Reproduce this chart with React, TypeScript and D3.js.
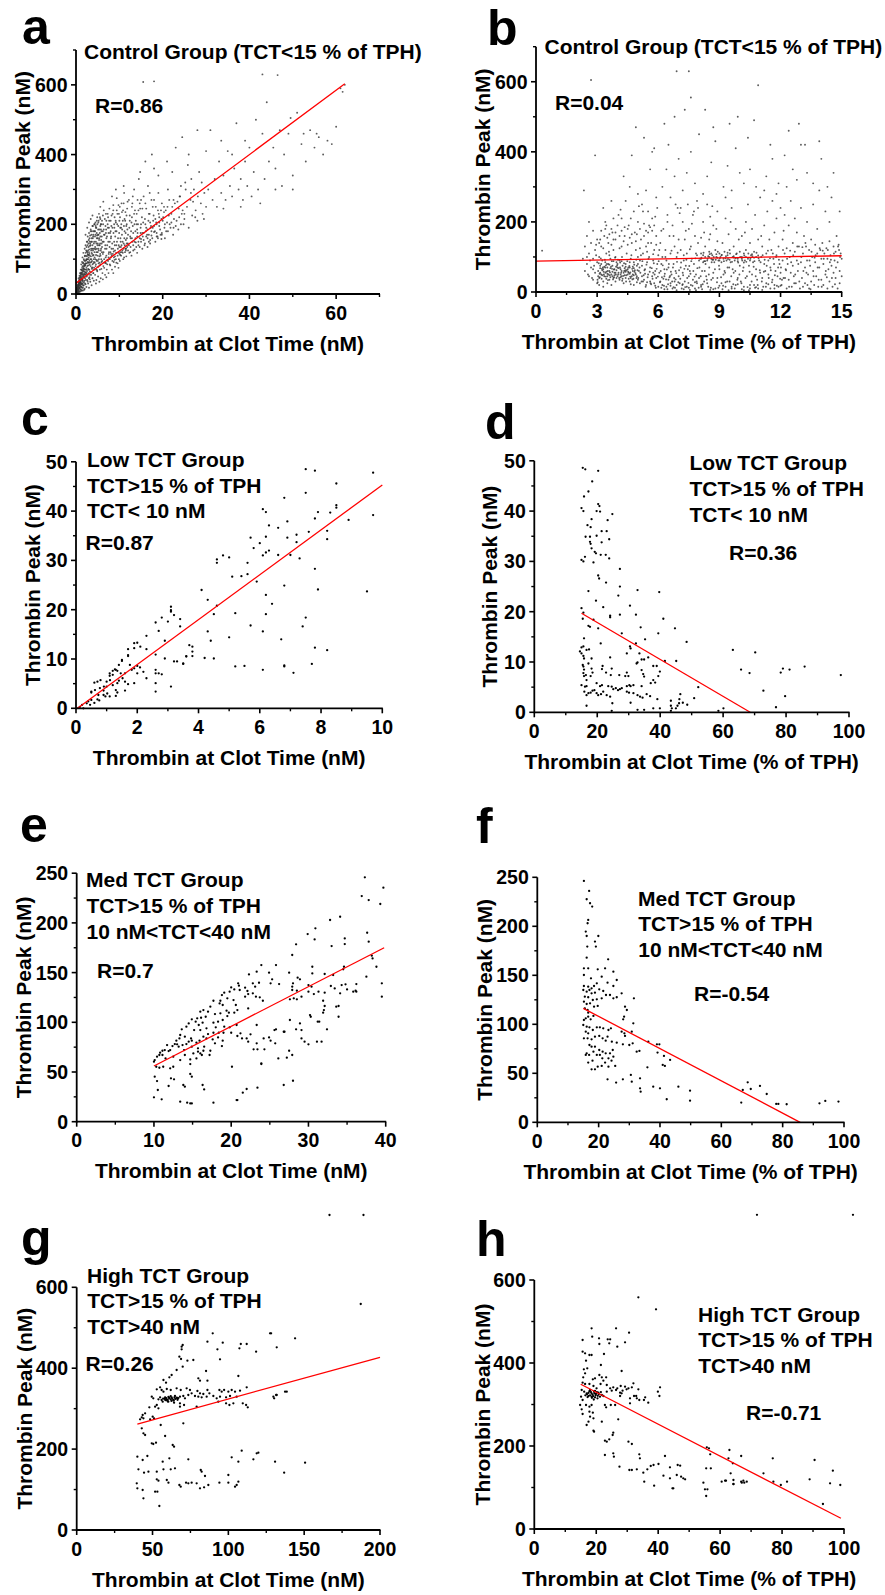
import React from 'react';
import * as d3 from 'd3';

type Pt = [number, number];

// ---------- Panel a : Control group, TCT (nM) vs peak ----------
const aPoints: Pt[] = [
[0.2,4],[0.3,9],[0.4,15],[0.5,6],[0.5,22],[0.6,12],[0.7,30],[0.8,18],[0.8,8],[0.9,40],[1.0,25],[1.0,14],[1.1,50],[1.1,33],[1.2,20],[1.2,62],[1.3,42],[1.3,11],[1.4,28],[1.4,75],[1.5,55],[1.5,36],[1.6,18],[1.6,88],[1.7,47],[1.7,66],[1.8,25],[1.8,100],[1.9,58],[1.9,38],[2.0,80],[2.0,15],[0.3,25],[0.6,45],[0.9,60],[1.2,85],[1.5,105],[0.4,3],[0.7,5],[1.0,7],[1.3,9],[1.6,10],[1.9,12],[0.2,18],[0.5,35],[0.8,52],[1.1,70],[1.4,92],[1.7,118],[2.0,130],
[2.1,45],[2.1,95],[2.2,28],[2.2,140],[2.3,62],[2.3,110],[2.4,20],[2.4,75],[2.5,150],[2.5,88],[2.6,40],[2.6,120],[2.7,55],[2.7,165],[2.8,100],[2.8,30],[2.9,70],[2.9,135],[3.0,18],[3.0,90],[3.0,175],[3.1,48],[3.1,115],[3.2,65],[3.2,150],[3.3,35],[3.3,100],[3.4,80],[3.4,185],[3.5,125],[3.5,55],[3.6,25],[3.6,160],[3.7,95],[3.7,72],[3.8,140],[3.8,45],[3.9,110],[3.9,195],[4.0,60],[4.0,130],[2.2,170],[2.6,190],[3.0,205],[3.4,215],[3.8,225],[2.4,58],[2.8,82],[3.2,42],[3.6,118],[4.0,88],
[4.1,38],[4.2,75],[4.2,150],[4.3,105],[4.3,200],[4.4,55],[4.5,128],[4.5,170],[4.6,85],[4.7,40],[4.7,145],[4.8,210],[4.8,98],[4.9,65],[5.0,160],[5.0,120],[5.1,185],[5.1,50],[5.2,88],[5.3,140],[5.3,230],[5.4,108],[5.5,70],[5.5,175],[5.6,195],[5.7,45],[5.7,125],[5.8,155],[5.9,92],[6.0,210],[6.0,135],[6.1,60],[6.2,115],[6.2,180],[6.3,80],[6.4,240],[6.4,150],[6.5,100],[6.6,170],[6.7,55],[6.7,130],[6.8,195],[6.9,88],[7.0,160],[7.0,110],[4.4,180],[4.9,220],[5.6,250],[6.3,265],[6.9,230],[4.6,30],[5.4,35],[6.2,42],[7.0,48],
[7.1,70],[7.2,140],[7.3,200],[7.4,95],[7.5,175],[7.5,60],[7.6,120],[7.7,245],[7.8,150],[7.9,82],[8.0,210],[8.0,105],[8.1,165],[8.2,130],[8.3,70],[8.4,190],[8.5,115],[8.6,255],[8.7,92],[8.8,150],[8.9,220],[9.0,125],[9.0,78],[9.1,180],[9.2,100],[9.3,140],[9.4,275],[9.5,200],[9.6,88],[9.7,160],[9.8,118],[9.9,230],[10.0,135],[10.1,95],[10.2,190],[10.3,150],[10.4,110],[10.5,260],[10.6,170],[10.7,125],[10.8,210],[10.9,100],[11.0,145],[11.1,290],[11.2,180],[11.3,120],[11.4,235],[11.5,155],[11.6,108],[11.7,200],[11.8,135],[11.9,265],[12.0,170],[7.4,220],[8.3,280],[9.2,300],[10.1,250],[11.0,310],[7.8,85],[8.9,98],[10.2,112],[11.5,125],[8.6,60],[9.8,75],
[12.2,140],[12.4,210],[12.5,120],[12.7,180],[12.9,250],[13.0,150],[13.2,125],[13.4,300],[13.5,200],[13.7,160],[13.9,135],[14.0,230],[14.2,175],[14.4,140],[14.5,330],[14.7,260],[14.9,190],[15.0,150],[15.2,220],[15.4,165],[15.6,280],[15.8,140],[16.0,200],[16.2,245],[16.4,170],[16.6,310],[16.8,150],[17.0,230],[17.2,190],[17.4,270],[17.6,160],[17.8,210],[18.0,360],[18.2,180],[18.4,250],[18.6,200],[18.8,165],[19.0,290],[19.2,220],[19.4,185],[19.6,240],[19.8,175],[20.0,210],[13.1,280],[14.8,350],[16.0,380],[17.5,400],[19.0,340],[15.3,130],[17.1,145],[18.9,160],[12.8,110],[14.1,118],[16.5,135],[18.3,150],[19.7,158],
[20.3,250],[20.8,180],[21.2,300],[21.6,200],[22.0,230],[22.4,170],[22.8,260],[23.2,210],[23.6,185],[24.0,280],[24.4,230],[24.8,200],[25.2,320],[25.6,250],[26.0,190],[26.4,270],[26.8,225],[27.2,300],[27.6,240],[28.0,210],[28.4,350],[28.8,260],[29.2,230],[29.6,290],[30.0,250],[21.0,380],[23.0,420],[24.5,450],[26.0,400],[28.0,470],[20.5,160],[22.5,190],[25.0,215],[27.5,220],[29.5,215],[21.5,270],[24.2,310],[26.6,330],[29.0,320],[22.2,350],[25.8,370],[23.7,245],[27.0,265],
[30.5,300],[31.0,470],[31.5,270],[32.0,330],[32.5,250],[33.0,380],[33.5,290],[34.0,340],[34.5,270],[35.0,410],[35.5,310],[36.0,280],[36.5,360],[37.0,490],[37.5,300],[38.0,330],[38.5,270],[39.0,380],[39.5,310],[40.0,420],[41.0,350],[42.0,300],[43.0,460],[44.0,550],[44.5,380],[41.5,500],[39.0,440],[36.0,400],[33.5,440],[30.0,410],[42.5,260],[38.0,250],[34.0,245],[40.5,280],[43.5,330],
[45.5,420],[46.0,360],[47.0,470],[47.5,310],[48.0,400],[49.0,460],[50.0,340],[51.0,520],[52.0,430],[53.0,380],[54.0,470],[55.0,420],[56.0,450],[57.0,400],[58.0,440],[59.0,430],[60.0,480],[61.0,590],[62.0,600],[43.0,630],[46.5,628],[15.5,608],[18.0,610],[46.0,300],[50.0,300],[52.5,460],[55.5,460],[49.5,505],[61.5,580],
[0.1,2],[0.15,8],[0.25,12],[0.35,5],[0.45,18],[0.55,28],[0.65,20],[0.75,38],[0.85,26],[0.95,48],[1.05,35],[1.15,22],[1.25,55],[1.35,68],[1.45,44],[1.55,30],[1.65,72],[1.75,52],[1.85,82],[1.95,64],[2.05,108],[2.15,70],[2.25,88],[2.35,125],[2.45,98],[2.55,66],[2.65,140],[2.75,112],[2.85,90],[2.95,155],[3.05,128],[3.15,84],[3.25,168],[3.35,140],[3.45,108],[3.55,92],[3.65,180],[3.75,130],[3.85,76],[3.95,165],[4.05,112],[4.15,92],[4.25,180],[4.35,130],[4.45,100],[4.55,195],[4.65,70],[4.75,120],[4.85,168],[4.95,140],[5.05,95],[5.15,205],[5.25,125],[5.35,160],[5.45,82],[5.55,145],[5.65,110],[5.75,185],[5.85,72],[5.95,165],
[6.5,75],[7.2,85],[7.8,100],[8.4,95],[9.0,108],[9.6,110],[10.2,120],[10.8,118],[11.4,130],[12.0,125],[12.6,135],[13.2,140],[13.8,148],[14.4,150],[15.0,158],[15.6,155],[16.2,165],[16.8,170],[17.4,168],[18.0,178],[6.8,90],[7.5,105],[8.1,115],[8.7,122],[9.3,90],[9.9,100],[10.5,140],[11.1,105],[11.7,145],[12.3,118],[12.9,160],[13.5,128],[14.1,165],[14.7,135],[15.3,175],[15.9,145],[16.5,185],[17.1,155],[17.7,190],[18.6,165],[19.2,195],[19.8,170],[20.5,200],[21.2,180],[22.0,205],
[3.5,150],[4.0,170],[4.6,190],[5.2,170],[5.8,200],[6.4,185],[7.0,210],[7.6,190],[8.2,225],[8.8,200],[9.4,240],[10.0,210],[10.6,235],[11.2,215],[11.8,245],[12.4,225],[13.0,260],[13.6,240],[14.2,270],[14.8,245],[4.8,160],[5.6,215],[6.2,225],[6.9,175],[7.3,230],[8.0,180],[8.6,240],[9.2,205],[9.8,255],[10.4,190],[11.0,260],[11.6,195],[12.2,270],[12.8,205],[13.4,230],[14.0,200],[15.0,270],[16.0,260],[17.0,290],[18.0,270],
[0.12,5],[0.18,12],[0.22,7],[0.28,16],[0.32,3],[0.38,20],[0.42,10],[0.48,26],[0.52,14],[0.58,32],[0.62,8],[0.68,24],[0.72,40],[0.78,16],[0.82,34],[0.88,46],[0.92,20],[0.98,30],[1.02,54],[1.08,12],[1.12,40],[1.18,60],[1.22,28],[1.28,48],[1.32,70],[1.38,18],[1.42,58],[1.48,80],[1.52,40],[1.58,66],[1.62,24],[1.68,90],[1.72,56],[1.78,74],[1.82,34],[1.88,96],[1.92,48],[1.98,70],[2.02,110],[2.08,30],[2.12,84],[2.18,56],[2.22,118],[2.28,40],[2.32,96],[2.38,70],[2.42,135],[2.48,50],[2.52,108],[2.58,80],[2.62,150],[2.68,36],[2.72,92],[2.78,125],[2.82,60],[2.88,145],[2.92,105],[2.98,45],
[0.3,14],[0.6,26],[0.9,34],[1.2,44],[1.5,62],[1.8,72],[2.1,82],[2.4,100],[2.7,115],[3.0,120],[0.4,22],[0.7,16],[1.0,42],[1.3,30],[1.6,50],[1.9,86],[2.2,62],[2.5,122],[2.8,72],[3.1,95],[0.5,10],[0.8,30],[1.1,58],[1.4,40],[1.7,78],[2.0,55],[2.3,88],[2.6,100],[2.9,112],[3.2,138],
[3.05,70],[3.12,160],[3.18,110],[3.22,55],[3.28,145],[3.32,90],[3.38,180],[3.42,62],[3.48,130],[3.52,100],[3.58,170],[3.62,75],[3.68,150],[3.72,115],[3.78,195],[3.82,85],[3.88,160],[3.92,125],[3.98,60],[4.02,180],[4.08,100],[4.12,145],[4.18,70],[4.22,200],[4.28,120],[4.32,90],[4.38,165],[4.42,135],[4.48,205],[4.52,80],[4.58,150],[4.62,112],[4.68,190],[4.72,95],[4.78,175],[4.82,130],[4.88,68],[4.92,200],[4.98,110],[5.02,145],[5.08,170],[5.12,78],[5.18,130],[5.22,210],[5.28,100],[5.32,155],[5.38,185],[5.42,90],[5.48,140],[5.52,220],[5.58,115],[5.62,165],[5.68,85],[5.72,200],[5.78,130],[5.82,100],[5.88,180],[5.92,145],[5.98,120],
[6.05,95],[6.15,150],[6.25,200],[6.35,120],[6.45,170],[6.55,90],[6.65,215],[6.75,140],[6.85,105],[6.95,185],[7.05,130],[7.15,165],[7.25,98],[7.35,190],[7.45,150],[7.55,115],[7.65,210],[7.75,135],[7.85,175],[7.95,120],[8.05,160],[8.15,195],[8.25,110],[8.35,145],[8.45,230],[8.55,130],[8.65,175],[8.75,105],[8.85,190],[8.95,140],[9.05,165],[9.15,210],[9.25,118],[9.35,180],[9.45,150],[9.55,230],[9.65,130],[9.75,195],[9.85,140],[9.95,175],[10.05,115],[10.15,220],[10.25,160],[10.35,135],[10.45,200],[10.55,120],[10.65,185],[10.75,150],[10.85,240],[10.95,130],[11.05,195],[11.15,160],[11.25,140],[11.35,210],[11.45,175],[11.55,130],[11.65,225],[11.75,160],[11.85,185],[11.95,145],
[12.3,190],[12.6,160],[12.9,220],[13.2,175],[13.5,150],[13.8,210],[14.1,185],[14.4,240],[14.7,160],[15.0,200],[15.3,245],[15.6,175],[15.9,215],[16.2,190],[16.5,160],[16.8,230],[17.1,205],[17.4,180],[17.7,250],[18.0,195],[18.3,215],[18.6,175],[18.9,240],[19.2,205],[19.5,170],[19.8,260],[20.1,220],[20.4,190],[20.7,240],[21.0,205],[21.4,225],[21.8,190],[22.2,250],[22.6,215],[23.0,195],[23.4,265],[23.8,220],[24.2,200],[24.6,240],[25.0,230],
[12.5,165],[13.1,195],[13.7,180],[14.3,200],[14.9,175],[15.5,205],[16.1,180],[16.7,210],[17.3,195],[17.9,225],[18.5,205],[19.1,230],[19.7,215],[20.3,235],[21.1,250],[22.5,270],[23.9,280],[25.3,300],[26.5,290],[28.1,280]
];
const aFit: Pt[] = [[0, 31], [62, 603]];
const aXTicks = [0, 20, 40, 60];
const aXMinor = [10, 30, 50, 70];
const aYTicks = [0, 200, 400, 600];
const aYMinor = [100, 300, 500, 700];
const aNotes = ['Control Group (TCT<15 % of TPH)', 'R=0.86'];

// ---------- Panel b : Control group, TCT (% of TPH) vs peak ----------
const bPoints: Pt[] = [
[0.3,118],
[2.3,95],[2.4,130],[2.4,60],[2.5,160],[2.5,80],[2.6,110],[2.6,45],[2.7,140],[2.7,70],[2.8,175],[2.8,95],[2.8,35],[2.9,120],[2.9,55],[3.0,150],[3.0,85],[3.0,25],[2.35,290],[2.6,200],[2.9,390],[2.7,605],[2.5,100],[2.8,65],[2.95,135],
[3.05,60],[3.1,40],[3.1,100],[3.15,75],[3.2,50],[3.2,130],[3.25,90],[3.3,30],[3.3,65],[3.35,160],[3.4,55],[3.4,85],[3.45,110],[3.5,45],[3.5,70],[3.55,140],[3.6,35],[3.6,60],[3.65,95],[3.7,50],[3.7,180],[3.75,75],[3.8,40],[3.8,120],[3.85,65],[3.9,55],[3.9,150],[3.95,85],[4.0,45],[4.0,70],[3.1,20],[3.3,15],[3.5,25],[3.7,20],[3.9,30],[3.2,175],[3.4,200],[3.6,165],[3.8,210],[4.0,190],[3.3,240],[3.7,260],[3.5,52],[3.65,42],[3.75,58],[3.85,48],[3.45,38],[3.25,48],[3.15,68],[3.95,62],[3.55,80],[3.35,72],[3.6,105],[3.9,100],
[4.05,55],[4.1,35],[4.1,90],[4.15,65],[4.2,45],[4.2,130],[4.25,75],[4.3,25],[4.3,55],[4.35,160],[4.4,40],[4.4,80],[4.45,110],[4.5,50],[4.5,65],[4.55,190],[4.6,30],[4.6,70],[4.65,95],[4.7,45],[4.7,140],[4.75,60],[4.8,20],[4.8,85],[4.85,170],[4.9,50],[4.9,120],[4.95,75],[5.0,35],[5.0,100],[4.2,210],[4.4,260],[4.6,300],[4.8,230],[5.0,280],[4.3,330],[4.7,390],[4.9,470],[4.1,160],[4.5,180],[4.2,60],[4.4,58],[4.6,52],[4.8,48],[4.35,68],[4.75,72],[4.15,42],[4.55,38],[4.95,28],[4.65,22],
[5.05,60],[5.1,25],[5.1,90],[5.15,150],[5.2,45],[5.2,75],[5.25,110],[5.3,35],[5.3,195],[5.35,65],[5.4,20],[5.4,130],[5.45,85],[5.5,50],[5.5,170],[5.55,100],[5.6,30],[5.6,70],[5.65,140],[5.7,45],[5.7,210],[5.75,90],[5.8,25],[5.8,120],[5.85,60],[5.9,160],[5.9,40],[5.95,80],[6.0,15],[6.0,105],[5.2,250],[5.4,290],[5.6,350],[5.8,410],[5.3,440],[5.7,400],[5.5,230],[5.9,270],[5.1,180],[5.6,185],[5.25,30],[5.45,28],[5.65,22],[5.85,18],[5.35,52],[5.75,55],
[6.05,55],[6.1,30],[6.1,140],[6.15,80],[6.2,20],[6.2,100],[6.25,180],[6.3,45],[6.3,65],[6.35,120],[6.4,15],[6.4,90],[6.45,220],[6.5,35],[6.5,70],[6.55,160],[6.6,25],[6.6,110],[6.65,50],[6.7,10],[6.7,190],[6.75,80],[6.8,30],[6.8,130],[6.85,60],[6.9,20],[6.9,100],[6.95,240],[7.0,45],[7.0,150],[6.2,300],[6.4,350],[6.6,270],[6.8,330],[7.0,380],[6.3,480],[6.8,500],[6.5,420],[6.9,630],[6.15,12],[6.45,8],[6.75,14],[6.25,38],[6.55,42],[6.85,36],
[7.05,25],[7.1,70],[7.1,120],[7.15,10],[7.2,55],[7.2,200],[7.25,90],[7.3,30],[7.3,150],[7.35,75],[7.4,15],[7.4,110],[7.45,250],[7.5,45],[7.5,180],[7.55,60],[7.6,20],[7.6,130],[7.65,95],[7.7,35],[7.7,220],[7.75,80],[7.8,10],[7.8,160],[7.85,50],[7.9,25],[7.9,105],[7.95,140],[8.0,40],[8.0,90],[7.2,290],[7.4,340],[7.6,400],[7.8,310],[8.0,450],[7.5,630],[7.6,555],[7.3,520],[7.9,260],[7.1,240],[7.25,8],[7.55,6],[7.85,5],[7.45,65],
[8.05,95],[8.1,20],[8.1,110],[8.15,60],[8.2,85],[8.2,200],[8.25,30],[8.3,100],[8.3,130],[8.35,45],[8.4,90],[8.4,250],[8.45,15],[8.5,115],[8.5,70],[8.55,165],[8.6,95],[8.6,35],[8.65,105],[8.7,55],[8.7,190],[8.75,85],[8.8,10],[8.8,120],[8.85,100],[8.9,40],[8.9,230],[8.95,90],[9.0,110],[9.0,65],[8.2,280],[8.4,330],[8.6,370],[8.8,430],[8.3,520],[8.7,470],[8.1,155],[8.5,150],[8.9,145],[8.25,88],[8.45,102],[8.65,92],[8.85,108],[8.15,8],[8.55,6],[8.95,12],
[9.05,100],[9.1,25],[9.1,85],[9.15,140],[9.2,95],[9.2,50],[9.25,115],[9.3,15],[9.3,210],[9.35,90],[9.4,70],[9.4,105],[9.45,165],[9.5,30],[9.5,120],[9.55,85],[9.6,10],[9.6,240],[9.65,100],[9.7,55],[9.7,130],[9.75,90],[9.8,20],[9.8,180],[9.85,110],[9.9,40],[9.9,95],[9.95,150],[10.0,75],[10.0,115],[9.2,300],[9.4,360],[9.6,290],[9.8,410],[10.0,340],[9.5,480],[9.9,500],[9.3,270],[9.15,8],[9.45,5],[9.75,10],[9.25,60],[9.65,65],
[10.05,30],[10.1,100],[10.1,160],[10.15,60],[10.2,110],[10.2,15],[10.25,90],[10.3,200],[10.3,120],[10.35,45],[10.4,95],[10.4,250],[10.45,75],[10.5,10],[10.5,140],[10.55,105],[10.6,50],[10.6,180],[10.65,85],[10.7,20],[10.7,115],[10.75,220],[10.8,65],[10.8,100],[10.85,35],[10.9,150],[10.9,10],[10.95,90],[11.0,55],[11.0,270],[10.2,310],[10.5,350],[10.8,300],[10.4,440],[10.7,490],[10.9,590],[10.1,8],[10.45,5],[10.75,12],
[11.05,100],[11.1,40],[11.1,130],[11.15,15],[11.2,80],[11.2,190],[11.25,60],[11.3,110],[11.3,25],[11.35,230],[11.4,90],[11.4,50],[11.45,150],[11.5,10],[11.5,70],[11.55,120],[11.6,35],[11.6,260],[11.65,95],[11.7,20],[11.7,170],[11.75,60],[11.8,105],[11.8,210],[11.85,45],[11.9,130],[11.9,15],[11.95,80],[12.0,55],[12.0,240],[11.3,330],[11.6,380],[11.9,310],[11.2,290],[11.8,280],[11.5,420],
[12.05,20],[12.1,90],[12.1,150],[12.15,40],[12.2,110],[12.2,220],[12.25,65],[12.3,10],[12.3,125],[12.35,80],[12.4,190],[12.4,35],[12.45,100],[12.5,55],[12.5,260],[12.55,15],[12.6,140],[12.6,75],[12.65,45],[12.7,115],[12.7,210],[12.75,25],[12.8,90],[12.8,170],[12.85,60],[12.9,130],[12.95,10],[13.0,85],[13.0,240],[12.3,300],[12.6,350],[12.9,480],[12.2,390],[12.8,320],[12.4,460],[13.0,420],
[13.05,40],[13.1,110],[13.1,15],[13.15,160],[13.2,70],[13.2,25],[13.25,130],[13.3,90],[13.3,200],[13.35,50],[13.4,10],[13.4,120],[13.45,75],[13.5,150],[13.5,30],[13.55,100],[13.6,60],[13.6,250],[13.65,20],[13.7,135],[13.7,85],[13.75,45],[13.8,110],[13.8,180],[13.85,15],[13.9,70],[13.9,290],[13.95,120],[14.0,35],[14.0,95],[13.3,340],[13.6,310],[13.9,430],[14.0,380],[13.2,420],
[14.05,140],[14.1,20],[14.1,80],[14.15,110],[14.2,50],[14.2,230],[14.25,125],[14.3,10],[14.3,95],[14.35,65],[14.4,145],[14.4,30],[14.45,105],[14.5,75],[14.5,270],[14.55,15],[14.6,130],[14.6,55],[14.65,90],[14.7,40],[14.7,115],[14.75,160],[14.8,10],[14.8,85],[14.85,135],[14.9,60],[14.9,25],[14.95,110],[15.0,95],[15.0,45],[14.3,300],[14.6,340],[14.9,230],[14.4,200],
[3.1,140],[3.3,125],[3.5,155],[3.7,135],[3.9,170],[4.1,125],[4.3,145],[4.5,135],[4.7,165],[4.9,145],[5.1,125],[5.3,160],[5.5,140],[5.7,175],[5.9,135],[3.4,180],[3.8,150],[4.2,175],[4.6,155],[5.0,200],[5.4,175],[5.8,190],
[3.05,45],[3.15,55],[3.25,62],[3.35,45],[3.45,58],[3.55,50],[3.65,68],[3.75,45],[3.85,55],[3.95,40],[4.05,68],[4.15,50],[4.25,38],[4.35,48],[4.45,62],[4.55,55],[4.65,40],[4.75,50],[4.85,62],[4.95,45],[3.2,80],[3.4,70],[3.6,78],[3.8,88],[4.0,80],[4.2,88],[4.4,72],[4.6,85],[4.8,68],[5.0,80],
[8.1,95],[8.3,88],[8.5,100],[8.7,92],[8.9,98],[9.1,105],[9.3,96],[9.5,92],[9.7,102],[9.9,88],[10.1,95],[10.3,100],[10.5,90],[10.7,98],[10.9,104],[8.2,105],[8.6,110],[9.0,90],[9.4,112],[9.8,96],[10.2,84],[10.6,108],
[6.3,8],[6.6,18],[6.9,5],[7.2,22],[7.5,12],[7.8,28],[8.1,15],[8.4,25],[8.7,8],[9.0,18],[9.3,28],[9.6,15],[9.9,22],[10.2,5],[10.5,20],[10.8,14],[11.1,6],[11.4,22],[11.7,10],[12.0,18],
[2.55,50],[2.65,90],[2.75,40],[2.85,75],[2.95,105],[3.02,35],[3.08,82],[3.12,52],[3.18,96],[3.22,38],[3.28,70],[3.32,58],[3.38,92],[3.42,44],[3.48,80],[3.52,60],[3.58,115],[3.62,48],[3.68,72],[3.72,88],[3.78,36],[3.82,64],[3.88,98],[3.92,50],[3.98,76],[4.02,92],[4.08,40],[4.12,70],[4.18,55],[4.22,100],[4.28,46],[4.32,82],[4.38,62],[4.42,30],[4.48,88],[4.52,58],[4.58,74],[4.62,44],[4.68,105],[4.72,66],[4.78,38],[4.82,78],[4.88,54],[4.92,92],[4.98,62],
[3.03,28],[3.13,42],[3.23,66],[3.33,50],[3.43,76],[3.53,34],[3.63,56],[3.73,66],[3.83,42],[3.93,72],[4.03,50],[4.13,84],[4.23,32],[4.33,60],[4.43,48],[4.53,70],[4.63,56],[4.73,36],[4.83,58],[4.93,40],
[5.02,40],[5.08,70],[5.12,55],[5.18,30],[5.22,88],[5.28,48],[5.32,62],[5.38,15],[5.42,78],[5.48,42],[5.52,95],[5.58,58],[5.62,25],[5.68,68],[5.72,38],[5.78,82],[5.82,50],[5.88,12],[5.92,66],[5.98,44],[6.02,88],[6.08,28],[6.12,60],[6.18,42],[6.22,76],[6.28,18],[6.32,52],[6.38,36],[6.42,64],[6.48,22],[6.52,80],[6.58,46],[6.62,58],[6.68,30],[6.72,70],[6.78,40],[6.82,12],[6.88,54],[6.92,86],[6.98,28],[7.02,62],[7.08,38],[7.12,84],[7.18,20],[7.22,48],[7.28,66],[7.32,14],[7.38,92],[7.42,40],[7.48,26],[7.52,74],[7.58,52],[7.62,88],[7.68,18],[7.72,60],[7.78,44],[7.82,96],[7.88,30],[7.92,68],[7.98,12],
[5.15,105],[5.45,115],[5.75,108],[6.05,120],[6.35,100],[6.65,118],[6.95,112],[7.25,105],[7.55,122],[7.85,110],
[8.02,70],[8.08,45],[8.12,98],[8.18,22],[8.22,112],[8.28,60],[8.32,80],[8.38,35],[8.42,95],[8.48,50],[8.52,108],[8.58,12],[8.62,85],[8.68,40],[8.72,100],[8.78,65],[8.82,92],[8.88,28],[8.92,115],[8.98,75],[9.02,96],[9.08,42],[9.12,106],[9.18,18],[9.22,88],[9.28,55],[9.32,102],[9.38,30],[9.42,94],[9.48,70],[9.52,110],[9.58,45],[9.62,86],[9.68,22],[9.72,98],[9.78,60],[9.82,108],[9.88,35],[9.92,84],[9.98,50],[10.02,100],[10.08,25],[10.12,90],[10.18,70],[10.22,104],[10.28,40],[10.32,86],[10.38,14],[10.42,110],[10.48,58],[10.52,95],[10.58,30],[10.62,102],[10.68,72],[10.72,88],[10.78,45],[10.82,112],[10.88,20],[10.92,96],[10.98,62],
[11.02,85],[11.08,30],[11.12,105],[11.18,58],[11.22,92],[11.28,15],[11.32,75],[11.38,118],[11.42,40],[11.48,96],[11.52,62],[11.58,28],[11.62,110],[11.68,80],[11.72,48],[11.78,100],[11.82,18],[11.88,70],[11.92,92],[11.98,38],
[12.02,70],[12.12,120],[12.22,40],[12.32,95],[12.42,15],[12.52,85],[12.62,105],[12.72,50],[12.82,130],[12.92,30],[13.02,100],[13.12,60],[13.22,140],[13.32,20],[13.42,90],[13.52,115],[13.62,45],[13.72,105],[13.82,70],[13.92,125],[14.02,15],[14.12,95],[14.22,60],[14.32,120],[14.42,85],[14.52,40],[14.62,110],[14.72,70],[14.82,130],[14.92,100],
[12.07,35],[12.27,62],[12.47,118],[12.67,25],[12.87,80],[13.07,128],[13.27,55],[13.47,8],[13.67,98],[13.87,35],[14.07,118],[14.27,42],[14.47,92],[14.67,22],[14.87,120],
[3.15,150],[3.45,190],[3.75,170],[4.05,220],[4.35,185],[4.65,210],[4.95,165],[5.25,230],[5.55,190],[5.85,215],[6.15,175],[6.45,200],[6.75,160],[7.05,225],[7.35,175],[7.65,195],[7.95,240],[8.25,170],[8.55,215],[8.85,180],[4.15,235],[5.05,245],[5.95,240],[6.85,250],[7.75,230],[8.65,245],[9.55,200],[10.25,170],[11.05,160],[12.15,175]
];
const bFit: Pt[] = [[0, 88], [15, 103.5]];
const bXTicks = [0, 3, 6, 9, 12, 15];
const bXMinor = [1.5, 4.5, 7.5, 10.5, 13.5];
const bYTicks = [0, 200, 400, 600];
const bYMinor = [100, 300, 500, 700];
const bNotes = ['Control Group (TCT<15 % of TPH)', 'R=0.04'];

// ---------- Panel c : Low TCT, nM ----------
const cPoints: Pt[] = [
[7.5,48.5],[7.8,48.2],[9.7,47.8],[8.5,45.6],[7.5,43.7],[6.8,42.7],[6.1,40.4],[6.2,39.8],[8.5,41.2],[8.5,40.7],[7.9,39.8],[8.3,39.7],[7.8,38.5],[9.7,39.2],[8.9,38.2],[6.3,37.1],[6.9,37.9],[6.6,36.6],[8.2,36.0],[7.6,35.8],[6.2,34.8],[5.7,34.6],[7.2,35.2],[6.9,34.6],[8.2,34.3],[6.0,33.5],[7.2,33.7],[5.8,32.5],[6.3,32.0],[6.2,31.6],[6.1,31.0],[6.6,31.1],[7.0,31.1],[7.3,30.4],[4.8,31.0],[5.0,30.6],[4.6,30.2],[4.6,29.5],[5.6,29.5],[7.8,28.3],[5.1,26.7],[5.4,26.8],[5.6,27.2],[5.9,25.7],[6.8,24.9],[7.9,24.1],[4.1,24.0],[9.5,23.7],[6.2,23.0],[4.3,22.0],[6.4,21.2],[4.6,20.8],[4.5,19.1],[5.2,19.3],[6.2,19.1],[6.1,15.6],[7.5,18.4],[7.4,16.6],[5.7,16.8],[4.3,15.6],[4.4,13.7],[5.0,14.4],[6.7,14.0],[7.8,12.3],[8.2,11.8],[4.2,10.2],[4.5,10.1],[5.2,8.5],[5.5,8.6],[6.8,8.7],[6.8,8.5],[7.7,9.0],[6.1,7.8],[7.1,7.2],
[2.6,17.4],[2.8,18.4],[2.7,15.7],[3.0,17.6],[3.2,18.9],[3.1,19.6],[3.1,19.9],[3.1,20.6],[3.4,18.1],[3.4,16.6],[2.3,14.7],[1.9,13.2],[2.0,13.3],[2.1,12.5],[1.9,12.2],[1.7,12.0],[1.7,10.8],[1.7,10.6],[2.3,12.0],[2.9,13.7],[2.6,10.9],[2.9,10.1],[3.2,9.5],[3.3,9.5],[3.5,9.1],[3.5,9.0],[3.6,10.5],[3.8,10.6],[3.7,12.8],[3.8,12.5],[3.8,11.5],[3.6,10.6],[2.6,7.8],[2.6,7.1],[2.7,7.1],[2.8,6.9],[2.3,6.1],[2.6,5.1],[3.1,4.4],[2.6,3.4],[2.2,7.4],[2.0,8.6],[1.9,8.1],[2.0,7.1],[1.9,5.1],[1.6,7.1],[1.4,8.8],[1.5,9.6],[1.5,9.8],[1.3,7.8],[1.2,7.6],[1.1,7.1],[1.1,6.6],[1.0,5.4],[0.8,5.7],[0.7,5.4],[0.6,5.2],[0.5,3.4],[0.5,3.2],[0.9,3.6],[1.0,4.4],[1.2,4.7],[1.35,5.1],[1.4,5.6],[1.3,3.7],[1.35,3.2],[1.6,5.4],[1.7,4.9],[1.6,3.6],[1.3,2.5],[1.1,2.4],[0.9,2.7],[0.7,1.8],[0.5,1.7],[0.4,1.4],[0.2,0.7],[0.13,0.3],[0.35,1.0],[0.6,1.1],[0.76,1.6],[0.96,2.4],[1.02,3.0],[0.78,4.1],[0.62,3.7],[0.73,2.7],[0.91,4.4],[1.11,5.7],[1.2,6.8],[1.27,7.9],[1.35,7.6],[1.46,7.1],[1.52,6.1],[1.76,8.8],[1.82,7.8],[2.09,8.3],[0.08,0.1],[0.24,0.0],[0.46,0.7]
];
const cFit: Pt[] = [[0.05, 0], [10, 45.3]];
const cXTicks = [0, 2, 4, 6, 8, 10];
const cXMinor = [1, 3, 5, 7, 9];
const cYTicks = [0, 10, 20, 30, 40, 50];
const cYMinor = [5, 15, 25, 35, 45];
const cNotes = ['Low TCT Group', 'TCT>15 % of TPH', 'TCT< 10 nM', 'R=0.87'];

// ---------- Panel d : Low TCT, % of TPH ----------
const dPoints: Pt[] = [
[15.4,48.6],[16.2,48.3],[20.3,48.0],[18.4,45.9],[17.2,43.9],[15.8,42.9],[15.0,40.6],[15.6,40.0],[20.3,41.4],[20.7,41.0],[19.8,40.0],[20.9,39.9],[23.3,38.2],[24.8,39.4],[16.9,37.2],[17.9,36.8],[18.2,38.4],[21.4,36.0],[23.0,36.0],[16.3,34.9],[17.7,34.9],[19.8,35.1],[23.8,34.4],[17.7,33.9],[17.9,33.5],[21.4,33.8],[18.2,32.6],[19.2,31.9],[19.6,31.6],[21.1,31.3],[22.7,31.3],[23.8,30.6],[15.0,30.3],[15.6,30.0],[16.1,30.9],[18.8,29.8],[20.3,27.2],[20.6,26.6],[27.2,28.5],[22.8,25.8],[27.2,25.0],[17.2,24.1],[32.8,24.3],[39.7,23.9],[26.7,23.2],[19.6,22.2],[30.4,21.2],[21.9,20.9],[15.0,20.7],[15.6,19.8],[27.2,19.4],[32.3,19.4],[24.1,19.2],[24.1,18.9],[41.0,18.6],[15.4,18.6],[18.8,18.4],[20.3,16.7],[17.2,17.2],[17.7,17.0],[44.7,16.7],[33.8,16.9],[27.8,15.7],[39.4,15.7],[35.2,14.5],[48.4,14.0],[15.8,14.7],[15.0,12.9],[15.6,13.1],[16.6,12.4],[17.4,12.5],[21.1,13.7],[14.5,12.1],[15.0,11.7],[15.6,11.2],[15.8,10.7],[18.2,10.7],[24.1,10.9],[30.4,13.1],[30.6,12.7],[32.3,13.7],[29.4,11.7],[33.4,11.7],[34.1,10.5],[34.9,10.5],[36.2,10.9],[37.8,9.2],[32.8,9.9],[38.9,9.2],[41.5,10.2],[45.1,10.2],[63.1,12.4],[70.2,11.9],[65.7,8.5],[68.4,7.8],[79.0,8.7],[78.3,7.9],[81.1,8.5],[85.9,9.1],[97.4,7.4],
[15.4,9.4],[15.6,9.1],[15.8,8.5],[17.2,9.7],[18.2,8.7],[15.6,7.8],[15.8,7.2],[16.4,7.4],[17.9,7.2],[18.5,7.9],[21.7,9.2],[21.5,8.6],[24.6,8.7],[22.8,7.9],[24.3,7.4],[27.0,7.4],[29.4,7.9],[28.9,7.2],[29.9,7.2],[32.5,9.7],[34.1,8.4],[34.6,7.6],[34.9,7.1],[16.6,6.4],[15.0,5.4],[16.1,5.1],[16.6,5.2],[19.8,5.8],[20.9,5.2],[21.5,5.4],[23.5,5.2],[24.6,5.1],[25.1,4.6],[25.9,4.8],[27.8,4.8],[29.4,5.2],[30.2,5.4],[30.6,5.2],[31.5,5.4],[34.1,5.2],[37.0,5.8],[37.8,6.4],[38.4,5.9],[39.4,7.2],[39.9,8.1],[15.9,4.1],[16.6,3.4],[17.2,3.8],[17.9,3.9],[18.5,4.3],[19.1,4.4],[19.8,3.8],[20.3,3.4],[21.2,3.6],[21.9,4.1],[23.0,3.4],[24.1,3.1],[26.6,4.4],[27.2,4.6],[29.4,4.1],[30.1,3.9],[31.5,3.8],[32.8,3.4],[33.6,3.1],[34.4,2.9],[35.7,3.6],[36.8,3.2],[39.1,2.6],[16.6,1.3],[24.8,1.8],[30.6,1.9],[32.8,0.5],[34.9,0.5],[37.8,0.8],[39.9,0.8],[43.4,2.3],[43.4,1.3],[43.7,0.8],[43.4,0.3],[45.5,1.3],[46.0,1.8],[46.1,2.6],[46.4,3.6],[45.0,0.8],[47.2,1.9],[48.6,1.5],[50.8,2.8],[52.1,5.0],[58.5,0.3],[60.1,0.8],[72.8,4.3],[79.7,3.2],[76.8,1.0],[24.6,0.3]
];
const dFit: Pt[] = [[15, 19.7], [68.6, 0]];
const dXTicks = [0, 20, 40, 60, 80, 100];
const dXMinor = [10, 30, 50, 70, 90];
const dYTicks = [0, 10, 20, 30, 40, 50];
const dYMinor = [5, 15, 25, 35, 45];
const dNotes = ['Low TCT Group', 'TCT>15 % of TPH', 'TCT< 10 nM', 'R=0.36'];

// ---------- Panel e : Med TCT, nM ----------
const ePoints: Pt[] = [
[37.3,245.8],[39.7,235.4],[36.9,227.0],[37.8,223.0],[39.3,219.0],[32.8,202.9],[34.1,206.2],[30.9,194.5],[29.9,188.8],[30.8,183.4],[34.7,184.4],[34.7,178.7],[37.6,190.1],[28.4,178.4],[33.0,176.7],[38.2,167.0],[38.3,164.3],[27.9,167.7],[23.9,157.6],[25.8,157.6],[30.5,155.9],[34.6,155.9],[38.8,155.9],[34.5,153.3],[22.3,148.2],[23.3,150.9],[24.9,149.9],[27.5,149.9],[30.5,149.2],[32.1,148.6],[28.6,144.9],[28.9,143.2],[25.3,143.2],[33.2,147.6],[22.8,139.2],[23.6,139.8],[25.1,139.2],[26.2,138.5],[20.9,139.2],[21.0,136.8],[20.0,135.1],[20.4,133.1],[21.8,134.8],[23.1,135.8],[28.0,139.2],[27.9,135.8],[36.2,138.5],[39.5,139.2],[30.0,137.5],[30.4,135.8],[27.9,132.5],[28.5,131.8],[34.3,137.5],[32.9,136.5],[31.3,130.8],[32.1,129.8],[30.0,130.8],[30.7,128.4],[34.1,129.1],[36.2,130.8],[39.5,125.8],[19.8,130.8],[21.1,132.5],[22.1,131.5],[22.8,129.1],[23.2,125.8],[23.7,125.1],[24.1,121.7],[22.2,128.4],[21.8,125.8],[19.1,129.8],[18.8,127.4],[17.7,121.7],[18.5,119.0],[18.9,117.4],[18.6,121.7],[19.5,124.1],[20.3,122.4],[20.6,117.4],[20.8,112.3],[20.4,109.7],[22.2,114.0],[27.6,123.1],[28.1,124.1],[28.5,123.1],[29.1,125.8],[31.9,121.7],[32.1,116.4],[32.0,112.3],[31.9,109.7],[33.9,116.4],[30.2,107.3],[30.3,105.6],[31.4,100.6],
[17.3,115.7],[16.4,112.3],[16.0,110.7],[17.0,110.7],[17.9,108.3],[18.6,109.0],[19.4,111.7],[19.7,109.7],[19.5,106.3],[18.9,102.3],[18.3,100.6],[17.7,99.6],[16.7,105.6],[16.1,104.6],[15.6,104.0],[15.4,100.6],[15.8,97.3],[16.3,99.6],[14.9,103.0],[14.5,98.9],[14.2,95.6],[13.6,92.9],[15.2,92.2],[16.0,92.2],[16.8,93.9],[18.0,94.9],[19.1,95.6],[19.8,94.9],[20.0,89.5],[19.0,89.5],[18.4,89.5],[17.7,89.5],[17.0,88.2],[16.4,85.5],[16.8,83.8],[17.6,82.8],[18.3,84.8],[18.9,81.5],[17.9,78.8],[18.8,76.1],[20.7,97.3],[20.8,86.2],[21.4,83.8],[22.0,83.8],[21.2,88.9],[22.2,80.5],[22.5,87.9],[23.3,97.3],[24.2,83.8],[24.9,84.8],[25.6,92.2],[25.8,92.9],[25.1,81.5],[23.3,78.8],[22.9,72.8],[23.4,72.8],[24.3,72.8],[26.9,90.5],[28.4,92.9],[29.1,83.8],[29.5,80.5],[30.0,77.8],[31.1,80.5],[31.7,80.5],[31.2,100.6],[32.4,92.9],
[13.4,87.2],[13.3,83.8],[12.9,81.5],[12.7,78.1],[13.0,77.8],[14.0,85.5],[14.8,83.8],[14.9,81.5],[14.5,80.5],[14.2,78.1],[13.7,77.1],[13.2,75.5],[13.9,72.1],[14.9,75.5],[15.5,79.5],[15.9,81.5],[15.7,73.8],[15.7,70.4],[16.0,68.7],[16.4,71.4],[17.3,71.4],[17.2,67.1],[16.2,67.1],[16.5,75.5],[12.4,76.1],[11.7,77.1],[12.1,72.1],[11.9,71.1],[11.4,72.1],[11.1,71.4],[10.8,69.4],[10.7,67.1],[10.4,65.4],[10.1,62.0],[10.0,60.4],[11.1,67.1],[11.5,63.7],[12.5,65.4],[13.4,62.0],[14.0,67.1],[14.7,62.7],[15.1,68.7],[15.5,63.7],[12.5,55.3],[12.1,53.7],[11.2,55.3],[10.7,54.3],[10.3,55.3],[10.1,45.3],[10.4,40.9],[10.5,31.9],[11.0,22.5],[10.0,24.5],[12.2,43.6],[12.6,42.6],[11.9,35.9],[13.8,36.9],[14.0,35.2],[14.7,58.0],[14.7,48.0],[14.9,45.3],[13.4,20.1],[14.3,19.1],[14.7,18.4],[14.9,18.4],[16.3,36.9],[16.5,32.5],[17.7,19.1],[20.1,55.3],[20.7,21.8],[20.8,21.8],[21.5,29.2],[22.0,32.9],[23.4,34.2],[23.9,58.0],[23.9,58.7],[26.8,36.9],[26.1,63.7],[27.2,64.4],[28.0,41.2],[27.5,71.4],[27.9,67.1],[26.8,90.5],[25.7,78.8],[27.6,102.3],[28.9,98.9],[29.1,92.2],[33.4,134.1],[33.6,115.7],[33.9,105.6],[34.8,138.2],[35.0,133.1],[35.8,130.8],[37.5,145.9],[36.1,131.8],[37.8,181.1]
];
const eFit: Pt[] = [[10, 56], [39.8, 175]];
const eXTicks = [0, 10, 20, 30, 40];
const eXMinor = [5, 15, 25, 35];
const eYTicks = [0, 50, 100, 150, 200, 250];
const eYMinor = [25, 75, 125, 175, 225];
const eNotes = ['Med TCT Group', 'TCT>15 % of TPH', '10 nM<TCT<40 nM', 'R=0.7'];

// ---------- Panel f : Med TCT, % of TPH ----------
const fPoints: Pt[] = [
[15.2,246.3],[16.9,236.1],[16.1,227.6],[17.2,223.5],[17.9,220.1],[16.6,206.5],[16.4,203.1],[19.9,190.1],[15.8,194.6],[16.1,190.1],[18.8,184.4],[19.1,179.3],[16.3,179.3],[16.1,168.0],[23.1,166.3],[15.2,157.1],[16.6,157.1],[19.7,156.1],[22.1,157.1],[15.2,150.3],[21.0,148.6],[24.8,153.7],[25.9,145.2],[17.5,146.9],[19.4,141.8],[22.9,142.5],[24.8,139.1],[27.5,131.6],[31.5,126.5],[15.2,139.1],[16.6,138.4],[17.7,136.7],[18.5,139.1],[15.0,135.0],[16.1,133.3],[17.0,135.0],[17.7,131.6],[18.8,132.3],[20.2,135.7],[21.5,134.0],[22.4,129.9],[23.7,129.9],[24.8,126.5],[25.9,127.6],[21.0,126.5],[19.4,125.5],[18.1,124.8],[16.6,127.6],[15.5,128.2],[15.2,123.1],[16.1,120.7],[17.2,121.4],[18.5,118.0],[19.7,118.7],[15.5,116.3],[16.4,114.6],[16.6,111.9],[15.8,106.1],[16.6,107.8],[17.4,105.1],[18.3,108.5],[15.2,104.4],[15.0,99.3],[16.1,97.6],[17.0,96.9],[18.1,94.2],[19.4,96.9],[20.4,96.9],[21.5,95.9],[23.2,94.2],[24.0,95.9],[15.8,92.5],[16.6,90.8],[15.2,85.7],[16.4,85.7],[17.7,84.7],[18.8,87.4],[20.2,88.1],[21.3,85.7],[22.3,83.3],[22.9,87.4],[24.3,82.3],[25.9,81.3],[27.5,92.5],[28.4,90.8],[28.6,88.1],[28.3,107.8],[28.0,105.1],[28.6,118.0],[29.2,114.6],[30.8,92.5],[31.3,101.0],[27.9,79.6],[30.0,78.9],[31.1,80.6],[32.4,72.1],[33.3,72.8],[36.2,82.3],[39.0,79.6],[39.8,79.6],[39.2,71.1],[41.3,67.7],[40.9,58.5],[41.6,57.5],[43.3,63.6],[35.9,56.1],
[24.6,73.8],[23.7,70.4],[24.8,67.0],[22.3,70.4],[21.3,72.1],[20.2,73.8],[18.8,77.2],[17.7,77.2],[17.0,78.9],[16.1,70.4],[15.8,68.7],[16.9,68.7],[18.3,72.1],[19.4,68.7],[20.4,68.7],[21.2,65.3],[23.2,65.3],[24.2,62.9],[22.1,60.9],[21.0,57.5],[19.7,56.8],[18.8,54.1],[17.7,54.1],[16.6,60.9],[18.0,62.9],[23.2,56.8],[25.4,57.5],[22.9,43.9],[25.7,40.5],[27.9,43.9],[30.5,48.3],[30.8,41.5],[33.5,44.9],[33.5,34.7],[33.7,31.3],[37.8,36.4],[40.0,34.7],[42.2,23.5],[46.0,36.4],[49.8,32.3],[49.8,22.1],[67.0,33.0],[68.6,40.8],[69.6,34.0],[72.6,37.1],[74.8,28.9],[66.5,20.1],[77.9,18.7],[78.6,18.7],[81.3,18.4],[92.0,19.4],[93.9,21.8],[98.2,21.1]
];
const fFit: Pt[] = [[15, 116.3], [85.7, 0]];
const fXTicks = [0, 20, 40, 60, 80, 100];
const fXMinor = [10, 30, 50, 70, 90];
const fYTicks = [0, 50, 100, 150, 200, 250];
const fYMinor = [25, 75, 125, 175, 225];
const fNotes = ['Med TCT Group', 'TCT>15 % of TPH', '10 nM<TCT<40 nM', 'R=-0.54'];

// ---------- Panel g : High TCT, nM ----------
const gPoints: Pt[] = [
[89.7,486.2],[127.5,486.2],[144.0,473.8],[86.2,465.6],[96.3,463.1],[108.2,459.8],[112.1,459.8],[69.9,457.3],[69.2,446.6],[107.3,449.1],[92.8,446.6],[131.9,451.6],[118.3,440.9],[67.7,428.5],[68.8,422.7],[73.0,418.6],[76.9,420.3],[94.5,421.9],[69.9,403.8],[65.9,395.5],[85.3,393.1],[62.6,383.2],[61.1,377.4],[106.6,380.7],[80.2,375.0],[81.3,369.2],[57.2,370.8],[58.9,364.2],[86.2,369.2],[55.0,352.7],[52.8,347.7],[56.0,346.1],[57.2,342.0],[59.4,348.6],[62.0,346.1],[65.9,350.2],[68.6,346.1],[72.5,350.2],[74.7,346.1],[75.8,337.9],[79.6,343.6],[81.3,337.9],[83.5,336.2],[86.2,346.1],[87.5,337.9],[94.1,346.1],[95.6,342.0],[97.2,346.1],[100.0,342.0],[102.2,346.1],[104.4,342.0],[107.7,344.5],[112.1,352.7],[138.5,342.0],
[49.5,329.6],[50.5,325.5],[53.9,323.0],[55.0,328.0],[56.0,321.4],[58.3,328.0],[59.4,321.4],[61.1,325.5],[62.6,328.0],[63.7,321.4],[64.8,331.3],[66.4,325.5],[68.1,329.6],[70.3,331.3],[71.4,325.5],[73.6,333.7],[78.0,331.3],[80.2,329.6],[82.4,328.0],[85.7,329.6],[90.1,331.3],[92.3,325.5],[94.5,329.6],[98.5,328.0],[101.1,331.3],[105.5,329.6],[129.7,329.6],[131.9,333.7],[56.7,317.3],[60.4,317.3],[64.2,314.8],[68.1,313.1],[70.8,309.0],[79.1,304.9],[93.4,317.3],[98.5,313.1],[100.7,309.0],[103.3,313.1],[109.5,313.1],[111.7,309.0],[112.8,303.2],[52.8,309.0],[47.9,303.2],[51.7,304.9],[53.9,300.8],[68.1,304.9],
[58,324],[59,326],[60,322],[61,327],[62,323],[63,325],[64,320],[65,324],[66,327],[57,325],[58.5,321],[60.5,329],[62.5,319],[64.5,328],[66.5,322],[67,326],[60,318],[62,331],
[45.1,288.4],[43.5,284.3],[42.9,278.5],[44.0,276.1],[48.4,273.6],[50.1,280.2],[51.0,276.1],[41.8,273.6],[55.4,259.6],[70.3,263.7],[42.9,251.3],[44.0,239.0],[45.1,234.9],[49.5,214.3],[50.5,212.6],[52.3,215.9],[58.3,232.4],[63.3,210.1],[64.2,206.0],[40.0,181.3],[43.5,173.1],[46.6,183.0],[56.7,169.0],[61.1,177.2],[73.6,174.7],[57.2,150.0],[62.0,150.0],[47.3,144.2],[44.4,141.7],[40.7,150.0],[52.8,144.2],[64.8,152.5],[81.8,148.3],[82.4,144.2],[84.6,133.5],[100.0,136.0],[102.2,179.7],[108.8,196.1],[106.6,169.0],[116.5,174.7],[119.8,191.2],[130.8,169.0],[136.8,141.7],[150.6,166.5],[52.8,125.3],[53.9,122.0],[59.4,123.6],[60.5,117.0],[39.6,115.4],[40.0,103.0],[43.5,98.9],[44.0,78.3],[51.7,94.8],[53.2,94.8],[54.5,59.3],[67.7,111.3],[68.6,107.1],[72.1,117.0],[73.6,115.4],[75.8,117.0],[79.1,115.4],[81.3,103.0],[84.0,105.5],[86.8,111.3],[94.1,117.0],[100.0,117.0],[104.4,107.1],[105.5,111.3],[106.6,119.5],[69.2,453.2],
[137.4,342.0],[130.2,325.5],[131.5,333.7],[128.2,486.2],[118.7,189.5],[187.3,558.7],[166.7,778.7],[189.1,778.7]
];
const gFit: Pt[] = [[40, 262], [200, 427]];
const gXTicks = [0, 50, 100, 150, 200];
const gXMinor = [25, 75, 125, 175];
const gYTicks = [0, 200, 400, 600];
const gYMinor = [100, 300, 500];
const gNotes = ['High TCT Group', 'TCT>15 % of TPH', 'TCT>40 nM', 'R=0.26'];

// ---------- Panel h : High TCT, % of TPH ----------
const hPoints: Pt[] = [
[33.6,558.2],[39.3,529.3],[18.5,483.5],[26.4,483.5],[30.6,473.1],[15.6,455.4],[18.7,463.5],[20.9,459.4],[23.7,457.0],[24.5,457.0],[29.3,449.8],[21.0,445.8],[24.2,447.4],[26.8,439.4],[15.6,427.3],[16.4,423.3],[17.8,419.3],[18.5,419.3],[22.5,421.7],[16.7,405.6],[16.0,384.7],[17.1,387.1],[16.4,375.1],[21.5,395.2],[28.2,380.7],[15.8,365.5],[15.6,352.6],[16.4,349.4],[17.8,349.4],[18.9,360.6],[19.6,363.0],[21.0,371.1],[21.8,365.5],[23.2,365.5],[22.3,357.4],[21.4,349.4],[19.1,344.6],[20.1,339.0],[23.4,347.0],[24.5,339.0],[25.5,341.4],[26.8,339.0],[27.9,344.6],[29.3,343.0],[30.4,339.0],[31.5,341.4],[32.0,351.0],[33.6,336.6],[40.6,341.4],[39.9,331.0],[40.4,320.5],
[15.3,334.9],[16.1,330.9],[16.9,326.9],[18.0,334.9],[18.5,326.9],[19.3,330.9],[19.9,325.3],[20.7,328.5],[21.8,322.9],[17.5,320.5],[18.5,318.9],[19.6,317.3],[20.4,314.8],[21.2,318.9],[22.3,320.5],[23.4,330.9],[25.0,333.3],[26.4,334.9],[27.7,328.5],[28.5,333.3],[29.8,336.6],[15.1,318.9],[15.6,310.8],[14.8,298.8],[16.7,298.8],[18.5,298.8],[17.8,294.8],[22.8,298.8],[23.2,293.2],[24.7,298.8],[26.1,298.8],[27.7,320.5],[28.2,326.9],[30.9,302.8],[30.9,314.8],[32.2,320.5],[33.1,314.8],[32.9,320.5],[33.9,310.8],[35.8,317.3],[35.4,310.8],[36.8,304.4],
[17,325],[17.5,328],[18,322],[18.3,330],[18.8,324],[19,320],[19.4,327],[19.8,322],[20.2,330],[20.5,321],[17.2,318],[18.6,316],[19.6,333],[20.8,325],[21.5,330],[17.8,332],[16.5,322],[19.2,312],
[15.3,288.4],[15.6,277.1],[17.8,282.7],[18.9,280.3],[18.0,270.7],[19.1,266.7],[17.5,258.6],[16.9,250.6],[19.1,236.9],[19.3,234.5],[21.8,258.6],[27.1,264.3],[22.8,212.9],[23.4,210.4],[24.2,216.1],[25.5,232.1],[25.3,226.5],[30.4,210.4],[31.5,204.8],[22.8,178.3],[25.5,182.3],[25.7,174.3],[27.5,150.2],[30.7,142.2],[31.5,142.2],[33.9,179.9],[34.1,170.3],[33.1,143.8],[35.2,135.7],[36.5,143.8],[37.6,151.8],[38.5,154.2],[40.1,156.6],[42.2,175.9],[41.7,128.5],[43.8,148.6],[43.8,122.1],[44.9,98.0],[46.3,154.2],[47.4,126.1],[48.1,122.1],[48.7,119.7],[35.5,114.1],[38.7,104.4],[55.7,196.8],[56.8,179.9],[55.5,146.2],[57.0,146.2],[54.6,111.6],[55.1,95.6],[55.9,95.6],[55.5,79.5],[63.0,190.4],[62.7,170.3],[64.1,158.3],[66.8,175.9],[63.4,134.1],[60.5,114.1],[61.9,116.5],[64.3,118.1],[64.3,107.9],[67.0,111.6],[67.8,111.6],[68.6,114.1],
[77.0,170.3],[74.0,134.2],[77.2,114.0],[79.6,106.0],[81.6,114.0],[88.9,119.8],[90.5,166.3],[96.4,140.5],[95.5,110.1],[98.8,106.0],[93.2,60.2],[66.8,114.0],[67.5,116.4],[64.3,108.4],[61.6,116.4],[56.4,194.4],[47.1,152.5],[46.0,130.1],[44.6,98.0],[71.9,757],[102.9,757]
];
const hFit: Pt[] = [[15, 348.7], [99, 25.8]];
const hXTicks = [0, 20, 40, 60, 80, 100];
const hXMinor = [10, 30, 50, 70, 90];
const hYTicks = [0, 200, 400, 600];
const hYMinor = [100, 300, 500];
const hNotes = ['High TCT Group', 'TCT>15 % of TPH', 'TCT>40 nM', 'R=-0.71'];

const xTitleNM = 'Thrombin at Clot Time (nM)';
const xTitlePct = 'Thrombin at Clot Time (% of TPH)';
const yTitle = 'Thrombin Peak (nM)';

// ---------- layout ----------
const FONT = "'Liberation Sans', Arial, Helvetica, sans-serif";

interface Spec {
  letter: string; letterX: number; letterY: number;
  xDomain: [number, number]; xRange: [number, number];
  yDomain: [number, number]; yRange: [number, number];
  xTicks: number[]; xMinor: number[]; yTicks: number[]; yMinor: number[];
  xTitle: string; yTitleX: number;
  notes: string[]; notePos: [number, number][];
  points: Pt[]; fit: Pt[]; dense: boolean;
}

const specs: Spec[] = [
  { letter: 'a', letterX: 22, letterY: 44, xDomain: [0, 70], xRange: [76, 379.5], yDomain: [0, 700], yRange: [294, 50], xTicks: aXTicks, xMinor: aXMinor, yTicks: aYTicks, yMinor: aYMinor, xTitle: xTitleNM, yTitleX: 30, notes: aNotes, notePos: [[84, 59], [95, 113]], points: aPoints, fit: aFit, dense: true },
  { letter: 'b', letterX: 487, letterY: 45, xDomain: [0, 15], xRange: [536, 841.7], yDomain: [0, 700], yRange: [292, 46.7], xTicks: bXTicks, xMinor: bXMinor, yTicks: bYTicks, yMinor: bYMinor, xTitle: xTitlePct, yTitleX: 490, notes: bNotes, notePos: [[544.5, 54], [555, 110]], points: bPoints, fit: bFit, dense: true },
  { letter: 'c', letterX: 21, letterY: 435, xDomain: [0, 10], xRange: [76, 382.3], yDomain: [0, 50], yRange: [708.3, 461.8], xTicks: cXTicks, xMinor: cXMinor, yTicks: cYTicks, yMinor: cYMinor, xTitle: xTitleNM, yTitleX: 40, notes: cNotes, notePos: [[87, 467], [87, 492.7], [87, 517.7], [85.5, 550]], points: cPoints, fit: cFit, dense: false },
  { letter: 'd', letterX: 485, letterY: 439, xDomain: [0, 100], xRange: [534.3, 849], yDomain: [0, 50], yRange: [712.3, 460.8], xTicks: dXTicks, xMinor: dXMinor, yTicks: dYTicks, yMinor: dYMinor, xTitle: xTitlePct, yTitleX: 497, notes: dNotes, notePos: [[689.5, 470], [689.5, 495.7], [689.5, 521.7], [729, 560]], points: dPoints, fit: dFit, dense: false },
  { letter: 'e', letterX: 20, letterY: 842, xDomain: [0, 40], xRange: [76.7, 385.7], yDomain: [0, 250], yRange: [1121.7, 873.2], xTicks: eXTicks, xMinor: eXMinor, yTicks: eYTicks, yMinor: eYMinor, xTitle: xTitleNM, yTitleX: 31, notes: eNotes, notePos: [[86, 887], [86.5, 913], [86.5, 939], [97, 978]], points: ePoints, fit: eFit, dense: false },
  { letter: 'f', letterX: 476, letterY: 843, xDomain: [0, 100], xRange: [537.3, 844], yDomain: [0, 250], yRange: [1122.3, 877.3], xTicks: fXTicks, xMinor: fXMinor, yTicks: fYTicks, yMinor: fYMinor, xTitle: xTitlePct, yTitleX: 492, notes: fNotes, notePos: [[638, 905.7], [638.3, 931], [638.3, 956.7], [694, 1001]], points: fPoints, fit: fFit, dense: false },
  { letter: 'g', letterX: 21, letterY: 1254.5, xDomain: [0, 200], xRange: [76.7, 380], yDomain: [0, 600], yRange: [1530, 1287.3], xTicks: gXTicks, xMinor: gXMinor, yTicks: gYTicks, yMinor: gYMinor, xTitle: xTitleNM, yTitleX: 32, notes: gNotes, notePos: [[87, 1282.7], [87.3, 1308], [87.3, 1334], [85.5, 1371]], points: gPoints, fit: gFit, dense: false },
  { letter: 'h', letterX: 476, letterY: 1256, xDomain: [0, 100], xRange: [534.3, 844], yDomain: [0, 600], yRange: [1529, 1280], xTicks: hXTicks, xMinor: hXMinor, yTicks: hYTicks, yMinor: hYMinor, xTitle: xTitlePct, yTitleX: 490, notes: hNotes, notePos: [[698, 1321.7], [698.3, 1346.7], [698.3, 1373], [746, 1420]], points: hPoints, fit: hFit, dense: false },
];

const AXIS_W = 1.8;
const MAJOR = 5;
const MINOR = 3;

function Panel({ s }: { s: Spec }) {
  const x = d3.scaleLinear().domain(s.xDomain).range(s.xRange);
  const y = d3.scaleLinear().domain(s.yDomain).range(s.yRange);
  const line = d3.line<Pt>().x(d => x(d[0])).y(d => y(d[1]));
  const x0 = s.xRange[0];
  const y0 = s.yRange[0];
  const xMid = (s.xRange[0] + s.xRange[1]) / 2;
  const yMid = (s.yRange[0] + s.yRange[1]) / 2;
  return (
    <g>
      <g>
        {s.points.map((p, i) => (
          <circle key={i} cx={x(p[0])} cy={y(p[1])} r={s.dense ? 0.95 : 1.15}
            fill={s.dense ? '#333' : '#000'} fillOpacity={s.dense ? 0.8 : 1} />
        ))}
      </g>
      <path d={line(s.fit) || ''} fill="none" stroke="#ff0000" strokeWidth={1.3} />
      <g stroke="#000" strokeWidth={AXIS_W} fill="none">
        <line x1={x0} y1={y0} x2={s.xRange[1] + 0.5} y2={y0} />
        <line x1={x0} y1={y0 + 0.9} x2={x0} y2={s.yRange[1]} />
        {s.xTicks.map(t => <line key={'xt' + t} x1={x(t)} x2={x(t)} y1={y0} y2={y0 + MAJOR} strokeWidth={1.6} />)}
        {s.xMinor.map(t => <line key={'xm' + t} x1={x(t)} x2={x(t)} y1={y0} y2={y0 + MINOR} strokeWidth={1.4} />)}
        {s.yTicks.map(t => <line key={'yt' + t} x1={x0} x2={x0 - MAJOR} y1={y(t)} y2={y(t)} strokeWidth={1.6} />)}
        {s.yMinor.map(t => <line key={'ym' + t} x1={x0} x2={x0 - MINOR} y1={y(t)} y2={y(t)} strokeWidth={1.4} />)}
      </g>
      <g fontFamily={FONT} fontWeight="bold" fontSize={19.5} fill="#000">
        {s.xTicks.map(t => <text key={'xl' + t} x={x(t)} y={y0 + 25.5} textAnchor="middle">{String(t)}</text>)}
        {s.yTicks.map(t => <text key={'yl' + t} x={x0 - 8.5} y={y(t)} dy="0.36em" textAnchor="end">{String(t)}</text>)}
      </g>
      <g fontFamily={FONT} fontWeight="bold" fontSize={21} fill="#000">
        <text x={xMid} y={y0 + 56.5} textAnchor="middle">{s.xTitle}</text>
        <text transform={`translate(${s.yTitleX},${yMid}) rotate(-90)`} textAnchor="middle">{yTitle}</text>
        {s.notes.map((n, i) => <text key={'n' + i} x={s.notePos[i][0]} y={s.notePos[i][1]}>{n}</text>)}
      </g>
      <text x={s.letterX} y={s.letterY} fontFamily={FONT} fontWeight="bold" fontSize={50} fill="#000">{s.letter}</text>
    </g>
  );
}

export default function App() {
  return (
    <div style={{ position: 'absolute', left: 0, top: 0 }}>
      <svg width={885} height={1595} viewBox="0 0 885 1595" style={{ display: 'block', background: '#fff' }}>
        <rect x={0} y={0} width={885} height={1595} fill="#fff" />
        {specs.map(s => <Panel key={s.letter} s={s} />)}
      </svg>
    </div>
  );
}
